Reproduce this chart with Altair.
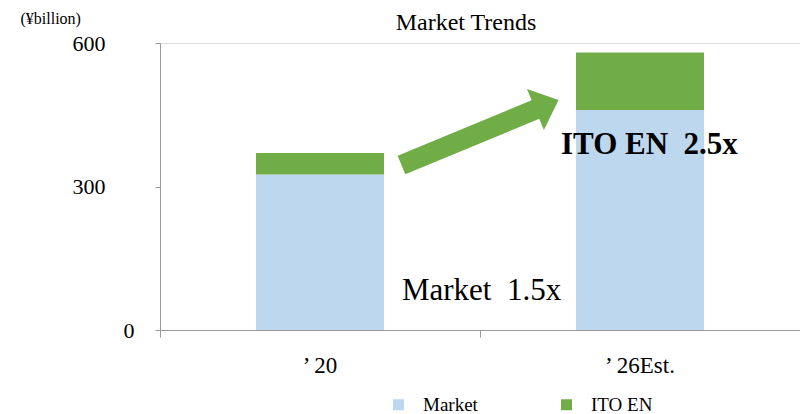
import altair as alt
import pandas as pd

# ---- data ----
categories = ["’ 20", "’ 26Est."]
cat_pos = [0.5, 1.5]
market = [325, 460]
itoen = [45, 120]
series = ["Market", "ITO EN"]
colors = ["#BDD7EE", "#70AD47"]

notes = ["ITO EN\u00a0 2.5x", "Market\u00a0 1.5x"]
note_x = [1.253, 0.756]
note_y = [387, 81]

arrow_x = [1.0]
arrow_y = [413]

BAR_HALF = 0.2
SERIF = "Liberation Serif"

rows = []
for c, p, m, i in zip(categories, cat_pos, market, itoen):
    rows.append(dict(cat=c, x0=p - BAR_HALF, x1=p + BAR_HALF, y0=0, y1=m, series="Market"))
    rows.append(dict(cat=c, x0=p - BAR_HALF, x1=p + BAR_HALF, y0=m, y1=m + i, series="ITO EN"))
bars_df = pd.DataFrame(rows)
cats_df = pd.DataFrame({"cat": categories, "x": cat_pos, "y": [0] * len(categories)})
notes_df = pd.DataFrame({"t": notes, "x": note_x, "y": note_y})
arrow_df = pd.DataFrame({"x": arrow_x, "y": arrow_y})

xscale = alt.Scale(domain=[0, 2], nice=False, zero=False)
yscale = alt.Scale(domain=[0, 600], nice=False)

xaxis = alt.Axis(values=[0, 1, 2], labels=False, title=None, grid=False,
                 tickSize=7, tickColor="#9A9A9A", domainColor="#9A9A9A")
yaxis = alt.Axis(values=[0, 300, 600], grid=False, tickSize=5,
                 tickColor="#9A9A9A", domainColor="#9A9A9A",
                 labelFont=SERIF, labelFontSize=22, labelColor="#000000",
                 labelPadding={"condition": {"test": "datum.value == 0", "value": 21}, "value": 50},
                 title="(¥billion)", titleAngle=0, titleAlign="left",
                 titleBaseline="alphabetic", titleX=-140, titleY=-20,
                 titleFont=SERIF, titleFontSize=16, titleFontWeight="normal",
                 titleColor="#000000")

bars = alt.Chart(bars_df).mark_bar().encode(
    x=alt.X("x0:Q", scale=xscale, axis=xaxis),
    x2="x1:Q",
    y=alt.Y("y0:Q", scale=yscale, axis=yaxis),
    y2="y1:Q",
    color=alt.Color("series:N",
                    scale=alt.Scale(domain=series, range=colors),
                    legend=alt.Legend(title=None, orient="none", direction="horizontal",
                                      legendX=229, legendY=352, symbolType="square",
                                      symbolSize=121, symbolStrokeWidth=0,
                                      labelFont=SERIF, labelFontSize=19,
                                      labelColor="#000000", labelOffset=15,
                                      columnPadding=79, padding=0)),
)

arrow_path = ("M-1,-0.118 L0.706,-0.118 L0.706,-0.26 L1,0 "
              "L0.706,0.26 L0.706,0.118 L-1,0.118 Z")
arrow = alt.Chart(arrow_df).mark_point(
    shape=arrow_path, size=28900, filled=True, fill="#70AD47",
    strokeWidth=0, opacity=1, angle=337.5
).encode(x=alt.X("x:Q", scale=xscale), y=alt.Y("y:Q", scale=yscale))

note_bold = alt.Chart(notes_df.iloc[[0]]).mark_text(
    align="left", baseline="middle", font=SERIF, fontSize=31,
    fontWeight="bold", color="#000000"
).encode(x=alt.X("x:Q", scale=xscale), y=alt.Y("y:Q", scale=yscale), text="t:N")

note_reg = alt.Chart(notes_df.iloc[[1]]).mark_text(
    align="left", baseline="middle", font=SERIF, fontSize=31,
    color="#000000"
).encode(x=alt.X("x:Q", scale=xscale), y=alt.Y("y:Q", scale=yscale), text="t:N")

cat_labels = alt.Chart(cats_df).mark_text(
    align="center", baseline="middle", font=SERIF, fontSize=23,
    color="#000000", dy=36
).encode(x=alt.X("x:Q", scale=xscale), y=alt.Y("y:Q", scale=yscale), text="cat:N")

chart = alt.layer(bars, arrow, note_bold, note_reg, cat_labels).properties(
    width=640, height=287,
    padding={"left": 152, "top": 35, "right": 0, "bottom": 84},
    autosize=alt.AutoSizeParams(type="none"),
    title=alt.TitleParams("Market Trends", font=SERIF, fontSize=24,
                          fontWeight="normal", color="#000000",
                          anchor="middle", frame="group", dx=-14, dy=39, offset=14),
).configure_view(strokeWidth=0).configure(background="#FFFFFF")

chart.save("out.html", embed_options={"renderer": "svg", "actions": False})
